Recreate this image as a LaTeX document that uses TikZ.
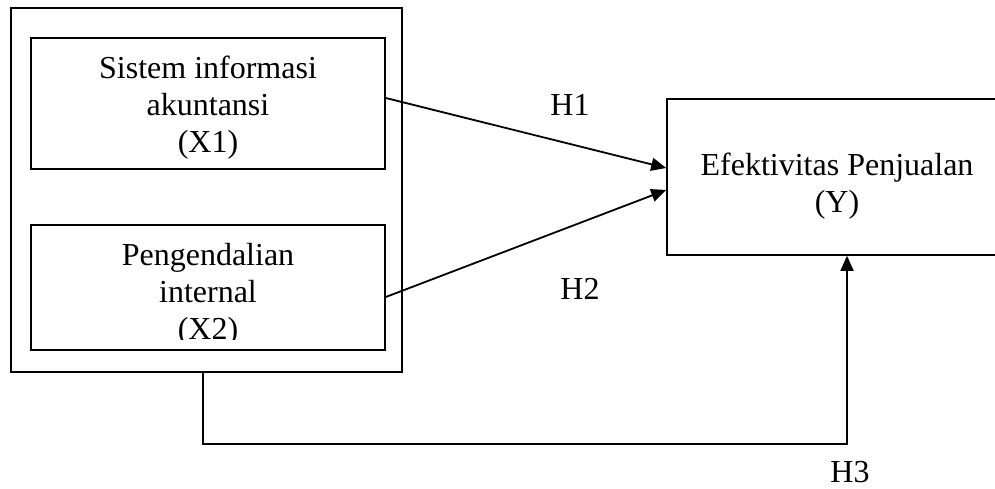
\documentclass[tikz,border=0pt]{standalone}
\usepackage{fontspec}
\setmainfont{Liberation Serif}
\usetikzlibrary{arrows.meta,positioning}

\tikzset{
  kotak/.style={draw, line width=1.6pt, inner sep=0pt},
  teks/.style={align=center, font=\fontsize{32}{37}\selectfont, inner sep=0pt},
  panah/.style={line width=1.8pt, -{Triangle[length=15pt,width=13pt]}},
}

\begin{document}
\begin{tikzpicture}[x=1pt,y=-1pt]
\clip (0,0) rectangle (995,489);

%kotak luar untuk X1 dan X2
\node[kotak, minimum width=391pt, minimum height=364pt] (luar) at (206.5,190) {};

%variabel bebas
\node[kotak, minimum width=354pt, minimum height=131pt] (x1) at (208,103.5) {};
\node[teks] (teksx1) at (208,108) {Sistem informasi\\akuntansi\\(X1)};
\node[kotak, minimum width=354pt, minimum height=125pt] (x2) at (208,287.5) {};
\begin{scope}
  \clip (31,225) rectangle (385,339);
  \node[teks] (teksx2) at (208,295) {Pengendalian\\internal\\(X2)};
\end{scope}

%variabel terikat
\node[kotak, minimum width=340pt, minimum height=156pt] (y) at (837,177) {};
\node[teks] (teksy) at (837,186) {Efektivitas Penjualan\\(Y)};

%hipotesis
\draw[panah] ([yshift=5.5pt]x1.east) -- ([yshift=9pt]y.west);
\draw[panah] ([yshift=-9.5pt]x2.east) -- ([yshift=-13pt]y.west);
\draw[panah] ([xshift=-3.5pt]luar.south) -- ++(0,71) -| ([xshift=10pt]y.south);

\node[teks] (h1) at (570,105) {H1};
\node[teks] (h2) at (580,289) {H2};
\node[teks] (h3) at (850,472) {H3};
\end{tikzpicture}
\end{document}
